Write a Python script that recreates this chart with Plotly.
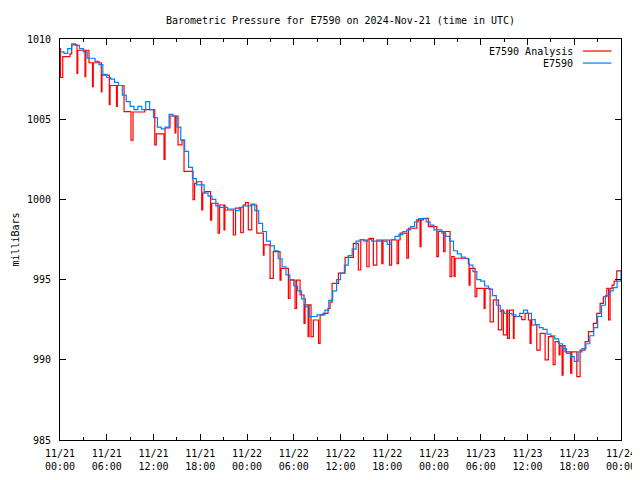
import numpy as np
import pandas as pd
import plotly.graph_objects as go

# ---------------- data ----------------
base_time = "2024-11-21 00:00"

# E7590 observations (half-hourly, hours after 11/21 00:00)
obs_hours = np.arange(0, 72.5, 0.5)
obs_values = [
    1009.2, 1009.1, 1009.4, 1009.7, 1009.6, 1009.4, 1009.2, 1008.8, 1008.8, 1008.6,
    1008.4, 1007.8, 1007.6, 1007.5, 1007.3, 1007.1, 1006.5, 1006.1, 1005.8, 1005.6,
    1005.8, 1005.6, 1006.1, 1005.6, 1005.1, 1004.5, 1004.4, 1004.5, 1005.3, 1005.2,
    1004.5, 1003.7, 1003.0, 1002.0, 1001.3, 1000.9, 1000.9, 1000.4, 1000.2, 1000.0,
    999.6, 999.5, 999.5, 999.4, 999.4, 999.3, 999.5, 999.6, 999.6, 999.7,
    999.3, 998.5, 998.0, 997.4, 997.1, 996.8, 996.3, 995.8, 995.3, 995.0,
    994.6, 994.3, 993.8, 993.3, 992.7, 992.7, 992.8, 992.8, 993.1, 993.7,
    994.3, 995.0, 995.4, 995.9, 996.5, 996.9, 997.4, 997.5, 997.4, 997.5,
    997.4, 997.4, 997.4, 997.4, 997.2, 997.5, 997.7, 997.8, 998.0, 998.1,
    998.3, 998.6, 998.8, 998.8, 998.6, 998.4, 998.1, 998.1, 997.9, 997.7,
    997.4, 996.8, 996.6, 996.4, 996.3, 995.9, 995.5, 995.0, 994.9, 994.6,
    994.4, 994.0, 993.4, 993.0, 992.9, 992.9, 992.8, 992.7, 992.9, 993.1,
    992.9, 992.5, 992.2, 992.0, 991.9, 991.6, 991.5, 991.3, 991.0, 990.7,
    990.4, 990.2, 989.9, 990.5, 990.7, 991.0, 991.5, 992.0, 992.7, 993.4,
    994.0, 994.3, 994.5, 994.9, 995.6,
]

# E7590 Analysis (step changes, hours after 11/21 00:00)
ana_hours = [
    0.00, 0.06, 0.35, 1.28, 1.50, 2.18, 2.28, 3.21, 3.31, 3.72, 4.17, 4.27, 5.30, 5.39,
    6.33, 6.43, 7.25, 7.36, 8.22, 9.11, 9.37, 10.87, 12.16, 12.36, 13.35, 13.48, 14.12,
    14.76, 14.87, 15.15, 15.66, 15.92, 17.07, 17.27, 17.55, 18.19, 18.32, 18.61, 19.32,
    19.47, 20.28, 20.48, 21.05, 21.16, 21.18, 22.25, 22.53, 23.19, 23.53, 23.81, 24.17,
    24.61, 25.25, 26.10, 26.19, 26.96, 27.38, 28.24, 28.37, 29.31, 29.52, 30.17, 30.36,
    30.81, 31.32, 31.45, 31.84, 31.96, 32.22, 32.52, 33.18, 33.38, 33.76, 34.40, 34.66,
    34.92, 35.73, 36.59, 37.65, 38.29, 38.60, 39.37, 39.67, 40.22, 40.66, 41.30, 41.46,
    42.30, 42.56, 43.26, 43.45, 43.65, 44.51, 44.71, 45.79, 46.21, 46.34, 46.64, 47.28,
    48.36, 48.56, 49.23, 49.42, 50.06, 50.28, 50.58, 50.71, 52.41, 52.50, 52.63, 53.27,
    53.49, 54.43, 54.56, 55.20, 55.62, 56.26, 56.70, 56.91, 57.34, 57.45, 57.68, 58.19,
    58.28, 58.63, 59.26, 59.69, 60.12, 60.33, 60.46, 60.55, 61.19, 61.62, 62.26, 62.68,
    63.29, 63.54, 64.06, 64.18, 64.44, 64.57, 64.83, 65.53, 65.69, 66.33, 66.75, 67.39,
    67.82, 68.46, 68.89, 69.32, 69.74, 70.18, 70.41, 70.60, 70.86, 71.12, 71.46, 72.00,
]
ana_values = [
    1009.4, 1007.6, 1008.9, 1009.07, 1009.63, 1007.86, 1009.3, 1007.65, 1009.3, 1008.52,
    1007.03, 1008.52, 1006.7, 1007.75, 1005.9, 1007.1, 1005.8, 1007.1, 1005.47, 1003.7,
    1005.45, 1005.6, 1003.4, 1004.08, 1002.5, 1004.45, 1005.2, 1004.14, 1005.2, 1003.4,
    1003.7, 1001.75, 999.98, 1001.0, 1001.1, 999.34, 1000.4, 1000.48, 998.7, 999.76,
    997.9, 999.65, 998.1, 999.65, 999.34, 997.78, 999.45, 997.92, 999.65, 999.8, 998.1,
    999.65, 997.9, 996.53, 997.16, 995.08, 996.74, 994.97, 995.7, 993.83, 994.97, 993.2,
    994.97, 994.04, 992.27, 993.42, 991.44, 993.42, 991.44, 992.48, 991.03, 992.8,
    992.9, 993.2, 993.6, 994.77, 995.4, 996.39, 997.26, 995.6, 997.47, 995.8, 997.57,
    995.9, 997.47, 996.0, 997.47, 995.9, 997.47, 996.0, 997.47, 997.9, 996.33, 998.2,
    998.72, 997.05, 998.72, 998.82, 998.3, 996.43, 998.0, 996.74, 998.0, 995.18, 996.43,
    995.2, 996.33, 996.0, 994.66, 995.7, 993.93, 994.45, 993.2, 994.45, 992.37, 993.73,
    991.86, 993.1, 991.55, 993.1, 991.34, 993.1, 991.34, 992.69, 992.7, 992.5, 992.9,
    992.48, 991.03, 992.48, 992.17, 990.6, 991.65, 990.0, 991.44, 989.7, 991.13, 990.3,
    990.88, 989.05, 990.88, 990.5, 989.16, 990.5, 988.95, 990.6, 991.13, 991.76, 992.27,
    992.9, 993.52, 993.93, 994.45, 992.48, 994.45, 994.66, 994.9, 995.54, 995.54,
]

tick_hours = [0, 6, 12, 18, 24, 30, 36, 42, 48, 54, 60, 66, 72]
minor_tick_hours = [3, 9, 15, 21, 27, 33, 39, 45, 51, 57, 63, 69]
tick_labels = [
    "11/21<br>00:00", "11/21<br>06:00", "11/21<br>12:00", "11/21<br>18:00",
    "11/22<br>00:00", "11/22<br>06:00", "11/22<br>12:00", "11/22<br>18:00",
    "11/23<br>00:00", "11/23<br>06:00", "11/23<br>12:00", "11/23<br>18:00",
    "11/24<br>00:00",
]
y_ticks = [985, 990, 995, 1000, 1005, 1010]

series_names = ["E7590 Analysis", "E7590"]
series_colors = ["#ff0000", "#0080ff"]

# ---------------- figure ----------------
t0 = pd.Timestamp(base_time)
def to_time(hours):
    return t0 + pd.to_timedelta(np.asarray(hours, dtype=float), unit="h")

FONT = "DejaVu Sans Mono"

fig = go.Figure()
fig.add_trace(go.Scatter(
    x=to_time(ana_hours), y=ana_values, mode="lines", name=series_names[0],
    line=dict(color=series_colors[0], width=1.2, shape="hv"),
))
fig.add_trace(go.Scatter(
    x=to_time(obs_hours), y=obs_values, mode="lines", name=series_names[1],
    line=dict(color=series_colors[1], width=1.2, shape="hv"),
))

# gnuplot-style legend (text right-aligned, line sample to the right)
legend_rows_y = [0.970, 0.940]
for name, color, yy in zip(series_names, series_colors, legend_rows_y):
    fig.add_annotation(
        x=0.918, y=yy, xref="paper", yref="paper", text=name, showarrow=False,
        xanchor="right", yanchor="middle", font=dict(family=FONT, size=10, color="black"),
    )
    fig.add_shape(
        type="line", xref="paper", yref="paper", x0=0.932, x1=0.983, y0=yy, y1=yy,
        line=dict(color=color, width=1.2),
    )

# y-axis title placed like gnuplot's ylabel
fig.add_annotation(
    x=-0.080, y=0.5, xref="paper", yref="paper", text="milliBars", showarrow=False,
    textangle=-90, xanchor="center", yanchor="middle",
    font=dict(family=FONT, size=10, color="black"),
)

# the page body adds an 8px offset; size the figure so the plot area lands at
# x 60..621, y 39..440 in the 640x480 window
fig.update_layout(
    width=632, height=472,
    margin=dict(l=52, r=19, t=31, b=40, autoexpand=False),
    paper_bgcolor="white", plot_bgcolor="white",
    showlegend=False,
    font=dict(family=FONT, size=10, color="black"),
    title=dict(
        text="Barometric Pressure for E7590 on 2024-Nov-21 (time in UTC)",
        xref="paper", x=0.5, xanchor="center", y=1 - 12 / 472, yanchor="middle",
        font=dict(family=FONT, size=10, color="black"),
    ),
    xaxis=dict(
        range=[to_time([0])[0], to_time([72])[0]],
        tickvals=to_time(tick_hours), ticktext=tick_labels,
        ticks="inside", ticklen=6, tickcolor="black", tickwidth=1,
        minor=dict(ticks="inside", ticklen=3, tickcolor="black",
                   tickvals=to_time(minor_tick_hours)),
        showline=True, linecolor="black", linewidth=1, mirror="allticks",
        showgrid=False, zeroline=False, ticklabelstandoff=4, automargin=False,
    ),
    yaxis=dict(
        range=[985, 1010], tickvals=y_ticks,
        ticks="inside", ticklen=6, tickcolor="black", tickwidth=1,
        showline=True, linecolor="black", linewidth=1, mirror="allticks",
        showgrid=False, zeroline=False, ticklabelstandoff=6, automargin=False,
    ),
)

fig.write_html("out.html")
